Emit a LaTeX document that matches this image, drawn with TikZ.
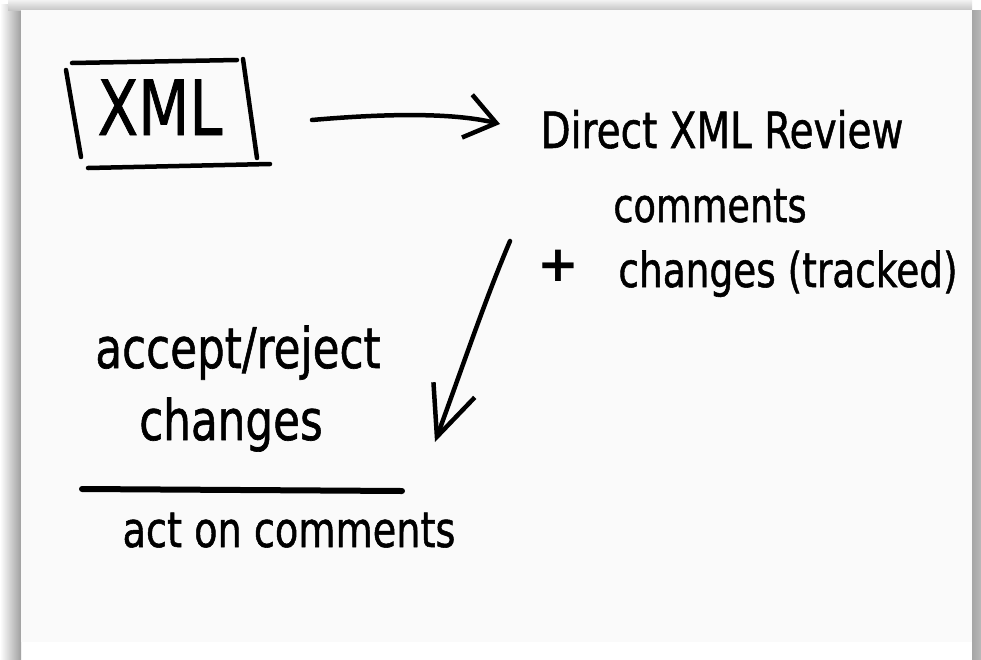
\documentclass[tikz,border=0pt]{standalone}
\usepackage{fontspec}
\setmainfont{DejaVu Sans}
\newfontfamily\handfont[FakeBold=1.2]{DejaVu Sans}
\usetikzlibrary{arrows.meta}

\tikzset{
  hand/.style={font=\handfont\fontsize{#1}{#1}\selectfont, xscale=.78, inner sep=0pt, anchor=base},
  pen/.style={line width=4.5pt, line cap=round, line join=round},
  barb/.style={-{Straight Barb[length=#1, width=44pt, line width=4.5pt]}}
}

\begin{document}
\begin{tikzpicture}[x=1pt, y=-1pt]

% page and shadow
\useasboundingbox (0,0) rectangle (981,659);
\fill[white] (0,0) rectangle (981,659);
\shade[left color=white, right color=gray!75] (0,4) rectangle (21,659);
\shade[top color=gray!10, bottom color=gray!45] (8,0) rectangle (972,10);
\shade[left color=gray!70, right color=gray!55] (972,10) rectangle (981,659);
\fill[black!2] (21,10) rectangle (972,642);

% box round XML
\node[hand=76] (xml) at (160,135) {XML};
\draw[pen] (72,63) -- (237,60);
\draw[pen] (66,70) -- (81,157);
\draw[pen] (243,59) -- (257,158);
\draw[pen] (88,168) -- (270,164);

\node[hand=50] (review) at (722,148) {Direct XML Review};
\node[hand=47] (comm) at (710,222) {comments};
\node[font=\fontsize{50}{50}\selectfont\bfseries, inner sep=0pt] (plus) at (558,266) {+};
\node[hand=48] (chg) at (788,287) {changes (tracked)};

\node[hand=56] (accept) at (238,368) {accept/reject};
\node[hand=56] (chgs) at (231,440) {changes};
\node[hand=49] (act) at (289,547) {act on comments};

\draw[line width=6pt, line cap=round] (82,489) -- (402,491);

% arrows
\coordinate (a1) at (312,120);
\coordinate (a2) at (500,124);
\coordinate (b1) at (510,241);
\coordinate (b2) at (435,442);
\draw[pen, barb=30pt] (a1) .. controls (380,114) and (450,112) .. (a2);
\draw[pen, barb=50pt] (b1) .. controls (485,300) and (465,360) .. (b2);

\end{tikzpicture}
\end{document}
